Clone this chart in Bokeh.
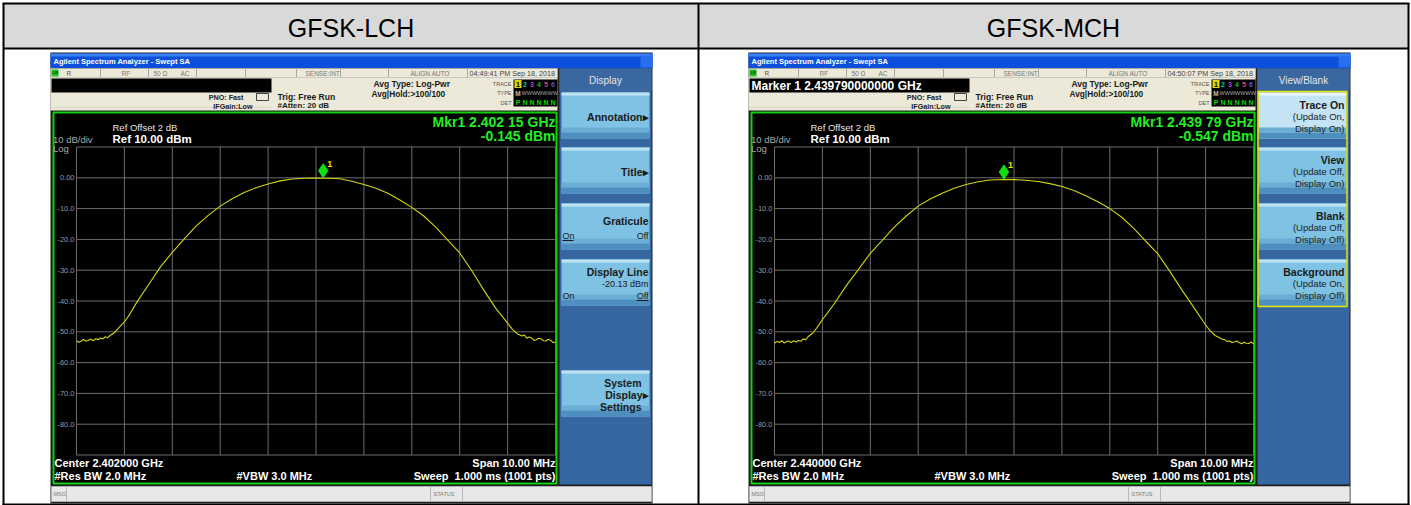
from bokeh.plotting import figure
from bokeh.models import Range1d
from bokeh.embed import file_html
from bokeh.resources import INLINE
from bokeh.core.properties import value

# ---------------- data ----------------
panel_titles = ["GFSK-LCH", "GFSK-MCH"]
window_times = ["04:49:41 PM Sep 18, 2018", "04:50:07 PM Sep 18, 2018"]
marker_readouts = ["", "Marker 1 2.439790000000 GHz"]
center_labels = ["Center 2.402000 GHz", "Center 2.440000 GHz"]
marker_freq_labels = ["Mkr1 2.402 15 GHz", "Mkr1 2.439 79 GHz"]
marker_level_labels = ["-0.145 dBm", "-0.547 dBm"]
marker_offset_mhz = [0.15, -0.21]
marker_level_dbm = [-0.145, -0.547]

span_mhz = 10.0
ref_level_dbm = 10.0
bottom_level_dbm = -90.0
freq_grid_mhz = [-5, -4, -3, -2, -1, 0, 1, 2, 3, 4, 5]
level_grid_dbm = [10, 0, -10, -20, -30, -40, -50, -60, -70, -80, -90]
y_tick_dbm = [0, -10, -20, -30, -40, -50, -60, -70, -80]
y_tick_labels = ["0.00", "-10.0", "-20.0", "-30.0", "-40.0", "-50.0", "-60.0", "-70.0", "-80.0"]

lch_freq_mhz = [-5.0, -4.95, -4.9, -4.85, -4.8, -4.75, -4.7, -4.65, -4.6, -4.55, -4.5, -4.45,
                -4.4, -4.35, -4.3, -4.2, -4.1, -4.0, -3.9,
                -3.75, -3.5, -3.25, -3.0, -2.75, -2.5, -2.25, -2.0, -1.75, -1.5, -1.25, -1.0,
                -0.75, -0.5, -0.25, 0.0, 0.15, 0.25, 0.5, 0.75, 1.0, 1.25, 1.5, 1.75, 2.0,
                2.25, 2.5, 2.75, 3.0, 3.25, 3.5, 3.75,
                4.0, 4.1, 4.2, 4.3, 4.35, 4.4, 4.45, 4.5, 4.55, 4.6, 4.65, 4.7, 4.75, 4.8,
                4.85, 4.9, 4.95, 5.0]
lch_level_dbm = [-52.9, -53.4, -53.0, -52.5, -53.1, -52.7, -52.4, -52.9, -52.2, -52.6, -52.0, -52.3,
                 -51.6, -51.9, -51.2, -50.2, -48.4, -46.8, -44.6,
                 -40.6, -34.8, -29.0, -24.2, -19.8, -15.6, -12.2, -9.2, -6.8, -4.8, -3.2, -2.0,
                 -1.0, -0.4, -0.15, -0.1, -0.145, -0.15, -0.3, -1.1, -2.2, -3.4, -5.0, -7.2, -9.6,
                 -12.4, -16.0, -20.2, -24.4, -30.1, -36.4, -42.3,
                 -47.2, -49.2, -50.6, -51.4, -51.0, -52.1, -51.7, -52.0, -52.8, -52.6, -52.1, -52.3,
                 -52.9, -53.0, -52.4, -52.8, -53.5, -53.4]

mch_freq_mhz = [-5.0, -4.95, -4.9, -4.85, -4.8, -4.75, -4.7, -4.65, -4.6, -4.55, -4.5, -4.45,
                -4.4, -4.35, -4.3, -4.2, -4.1, -4.0, -3.9,
                -3.75, -3.5, -3.25, -3.0, -2.75, -2.5, -2.25, -2.0, -1.75, -1.5, -1.25, -1.0,
                -0.75, -0.5, -0.21, 0.0, 0.25, 0.5, 0.75, 1.0, 1.25, 1.5, 1.75, 2.0,
                2.25, 2.5, 2.75, 3.0, 3.25, 3.5, 3.75,
                4.0, 4.1, 4.2, 4.3, 4.35, 4.4, 4.45, 4.5, 4.55, 4.6, 4.65, 4.7, 4.75, 4.8,
                4.85, 4.9, 4.95, 5.0]
mch_level_dbm = [-53.7, -53.1, -53.5, -52.9, -53.6, -53.2, -53.0, -53.5, -52.9, -53.3, -52.8, -53.1,
                 -52.3, -52.6, -51.6, -50.4, -48.4, -46.0, -44.0,
                 -40.8, -35.0, -29.8, -24.5, -20.3, -16.0, -12.4, -9.2, -6.9, -5.0, -3.4, -2.2,
                 -1.3, -0.7, -0.547, -0.6, -0.8, -1.2, -1.9, -2.8, -4.1, -5.8, -7.8, -10.0,
                 -12.8, -16.4, -20.6, -24.6, -30.3, -36.3, -42.0,
                 -47.8, -49.8, -51.2, -52.0, -52.4, -52.6, -53.1, -53.0, -53.5, -53.3, -53.0, -53.5,
                 -53.9, -53.4, -53.7, -53.8, -53.3, -54.0]

traces = [(lch_freq_mhz, lch_level_dbm), (mch_freq_mhz, mch_level_dbm)]
menu_titles = ["Display", "View/Blank"]

# ---------------- figure (pixel coordinates of the page) ----------------
W, H = 1411, 505
p = figure(width=W, height=H, x_range=Range1d(0, W), y_range=Range1d(H, 0),
           output_backend="svg", toolbar_location=None,
           x_axis_location=None, y_axis_location=None, min_border=0)
p.grid.visible = False
p.outline_line_color = None
p.background_fill_color = "white"
p.border_fill_color = "white"

FONT = value("Liberation Sans")


def box(l, r, t, b, fill, line=None, lw=1):
    p.quad(left=[l], right=[r], top=[t], bottom=[b], fill_color=fill,
           line_color=line, line_width=lw)


def txt(x, y, s, size, color="#000000", align="left", bold=False, font=FONT):
    p.text(x=[x], y=[y], text=[s], text_font=font, text_font_size=f"{size}px",
           text_color=color, text_align=align, text_baseline="middle",
           text_font_style="bold" if bold else "normal")


def seg(x0, y0, x1, y1, color, lw=1):
    p.segment(x0=[x0], y0=[y0], x1=[x1], y1=[y1], line_color=color, line_width=lw)


# ---------------- table ----------------
box(3, 1408, 3, 48, "#d9d9d9")
for i, title in enumerate(panel_titles):
    cx = [350.5, 1053][i]
    txt(cx, 27, title, 25, "#000000", align="center")
seg(3, 48, 1408, 48, "#000000", 2)
seg(698, 3, 698, 505, "#000000", 2)
seg(2, 3, 1409, 3, "#000000", 2)
seg(3, 3, 3, 505, "#000000", 2)
seg(1408, 3, 1408, 505, "#000000", 2)
seg(2, 504, 1409, 504, "#000000", 2)


def button(x0, x1, y0, y1, selected=False):
    body = "#c4e3f4" if selected else "#7fc2e3"
    top = "#eaf6fc" if selected else "#bfe2f3"
    box(x0, x1, y0, y1, body)
    box(x0, x1, y0, y0 + 3, top)
    box(x0, x1, y1 - 11, y1 - 6, "#6aaed6")
    box(x0, x1, y1 - 6, y1, "#4f8fc0")


def screen(k):
    dx = 698 * k
    # frame
    box(50 + dx, 652 + dx, 52, 503, "#1e1e1e")
    # window title bar
    box(50 + dx, 652 + dx, 53, 68, "#0c4fdc")
    box(50 + dx, 652 + dx, 53, 56, "#3c80f2")
    box(640 + dx, 652 + dx, 55, 67, "#2a6ef0")
    txt(53 + dx, 61, "Agilent Spectrum Analyzer - Swept SA", 7.5, "#ffffff", bold=True)
    # status row
    box(50 + dx, 557 + dx, 68, 77, "#ece9d8", "#a8a8a8")
    box(51 + dx, 58 + dx, 69, 76, "#22c022")
    txt(52 + dx, 72.7, "LXI", 3.5, "#003300", bold=True)
    for sx in [100, 148, 196, 245, 296, 340, 388, 467]:
        seg(sx + dx, 68, sx + dx, 77, "#a8a8a8")
    txt(66 + dx, 72.7, "R", 6.5, "#555555")
    txt(121 + dx, 72.7, "RF", 6.5, "#777777")
    txt(153 + dx, 72.7, "50 \u03a9", 6.5, "#777777")
    txt(180 + dx, 72.7, "AC", 6.5, "#777777")
    txt(305 + dx, 72.7, "SENSE:INT", 6.5, "#777777")
    txt(410 + dx, 72.7, "ALIGN AUTO", 6.5, "#777777")
    txt(469 + dx, 72.7, window_times[k], 7.2, "#444444")
    # info area
    box(50 + dx, 557 + dx, 77, 110, "#ece9d8")
    box(51 + dx, 271 + dx, 78, 92, "#000000")
    if marker_readouts[k]:
        txt(53 + dx, 85.5, marker_readouts[k], 12, "#ffffff", bold=True)
    seg(51 + dx, 107, 271 + dx, 107, "#dad6c4")
    txt(243 + dx, 97, "PNO: Fast", 7.2, "#222222", align="right", bold=True)
    txt(252 + dx, 105.5, "IFGain:Low", 7.2, "#222222", align="right", bold=True)
    p.quad(left=[256 + dx], right=[268 + dx], top=[93], bottom=[100], fill_color=None,
           line_color="#444444", line_width=1)
    txt(277 + dx, 96, "Trig: Free Run", 8.5, "#1a1a1a", bold=True)
    txt(277 + dx, 105, "#Atten: 20 dB", 8, "#1a1a1a", bold=True)
    txt(373 + dx, 83.5, "Avg Type: Log-Pwr", 8.5, "#1a1a1a", bold=True)
    txt(371 + dx, 93, "Avg|Hold:>100/100", 8.3, "#1a1a1a", bold=True)
    txt(511 + dx, 83, "TRACE", 5.5, "#555555", align="right")
    txt(511 + dx, 92.5, "TYPE", 5.5, "#555555", align="right")
    txt(511 + dx, 102, "DET", 5.5, "#555555", align="right")
    box(513 + dx, 557 + dx, 79, 106, "#000000")
    box(514 + dx, 521 + dx, 79.5, 87.5, "#d8d800")
    cols = ["#000000", "#00c8c8", "#c040c0", "#00c000", "#e0407a", "#5050ff"]
    for j in range(6):
        txt(517.5 + dx + 7 * j, 83.5, str(j + 1), 7, cols[j], align="center", bold=True)
    txt(517.5 + dx, 93, "M", 6.5, "#bbbbbb", align="center", bold=True)
    txt(521 + dx, 92.5, "WWWWWWW", 5.5, "#aaaaaa")
    txt(517.5 + dx, 102, "P", 7, "#00dd00", align="center", bold=True)
    for j in range(1, 6):
        txt(517.5 + dx + 7 * j, 102, "N", 7, "#00dd00", align="center", bold=True)

    # graph area
    box(52 + dx, 557 + dx, 111, 484, "#000000")
    p.quad(left=[53 + dx], right=[556 + dx], top=[112], bottom=[483], fill_color=None,
           line_color="#10d010", line_width=2)
    txt(112 + dx, 127, "Ref Offset 2 dB", 9.5, "#e6e6e6")
    txt(112 + dx, 138.5, "Ref 10.00 dBm", 11.5, "#ffffff", bold=True)
    txt(52.5 + dx, 139, "10 dB/div", 9.5, "#a8a8a8")
    txt(52.5 + dx, 147.5, "Log", 9.5, "#a8a8a8")
    txt(555 + dx, 121, marker_freq_labels[k], 14, "#22ee22", align="right", bold=True)
    txt(555 + dx, 135, marker_level_labels[k], 14, "#22ee22", align="right", bold=True)
    txt(54 + dx, 462, center_labels[k], 11, "#ffffff", bold=True)
    txt(555 + dx, 462, "Span 10.00 MHz", 11, "#ffffff", align="right", bold=True)
    txt(54 + dx, 475, "#Res BW 2.0 MHz", 11, "#ffffff", bold=True)
    txt(236 + dx, 475, "#VBW 3.0 MHz", 11, "#ffffff", bold=True)
    txt(555 + dx, 475, "Sweep\u00a0\u00a01.000 ms (1001 pts)", 11, "#ffffff", align="right", bold=True)

    # graticule & trace through a sub-coordinate mapping
    gx0, gx1 = 76 + dx, 555 + dx
    gy_top, gy_bot = 146.5, 454.5
    sub = p.subplot(x_source=Range1d(-span_mhz / 2, span_mhz / 2),
                    y_source=Range1d(bottom_level_dbm, ref_level_dbm),
                    x_target=Range1d(gx0, gx1), y_target=Range1d(gy_bot, gy_top))
    n = len(freq_grid_mhz)
    sub.segment(x0=freq_grid_mhz, y0=[bottom_level_dbm] * n, x1=freq_grid_mhz,
                y1=[ref_level_dbm] * n, line_color="#6c6c6c", line_width=1)
    m = len(level_grid_dbm)
    sub.segment(x0=[-span_mhz / 2] * m, y0=level_grid_dbm, x1=[span_mhz / 2] * m,
                y1=level_grid_dbm, line_color="#6c6c6c", line_width=1)
    sub.text(x=[-span_mhz / 2] * len(y_tick_dbm), y=y_tick_dbm, text=y_tick_labels,
             x_offset=-2, text_align="right", text_baseline="middle",
             text_font=FONT, text_font_size="7.5px", text_color="#9a9a9a")
    fx, lv = traces[k]
    sub.line(x=fx, y=lv, line_color="#d4d414", line_width=1.1)
    # marker (drawn just above the trace point)
    subm = p.subplot(x_source=Range1d(-span_mhz / 2, span_mhz / 2),
                     y_source=Range1d(bottom_level_dbm, ref_level_dbm),
                     x_target=Range1d(gx0, gx1), y_target=Range1d(gy_bot - 7.5, gy_top - 7.5))
    subm.scatter(x=[marker_offset_mhz[k]], y=[marker_level_dbm[k]], marker="diamond",
                 size=14, fill_color="#10e010", line_color="#10e010")
    subm.text(x=[marker_offset_mhz[k]], y=[marker_level_dbm[k]], text=["1"],
              x_offset=4, y_offset=-7, text_font=FONT, text_font_size="9px",
              text_color="#e8e800", text_baseline="middle", text_font_style="bold")

    # softkey panel
    box(559 + dx, 651 + dx, 68, 484, "#3767a2")
    box(559 + dx, 651 + dx, 68, 91, "#3a67a0")
    txt(605 + dx, 80, menu_titles[k], 10, "#e6e6e6", align="center")
    R = 648 + dx
    if k == 0:
        for t0 in [92, 147, 203, 259, 370]:
            button(561 + dx, 649 + dx, t0, t0 + 46)
        txt(R, 116, "Annotation\u25b8", 10.5, "#1a1a1a", align="right", bold=True)
        txt(R, 171, "Title\u25b8", 10.5, "#1a1a1a", align="right", bold=True)
        txt(R, 220, "Graticule", 10.5, "#1a1a1a", align="right", bold=True)
        txt(562 + dx, 235, "On", 9, "#1a1a1a")
        seg(562 + dx, 240, 573 + dx, 240, "#1a1a1a")
        txt(R, 235, "Off", 9, "#1a1a1a", align="right")
        txt(R, 271, "Display Line", 10.5, "#1a1a1a", align="right", bold=True)
        txt(R, 283, "-20.13 dBm", 9, "#1a1a1a", align="right")
        txt(562 + dx, 295, "On", 9, "#1a1a1a")
        txt(R, 295, "Off", 9, "#1a1a1a", align="right")
        seg(R - 12, 300, R, 300, "#1a1a1a")
        txt(R - 7, 382, "System", 10.5, "#1a1a1a", align="right", bold=True)
        txt(R, 394, "Display\u25b8", 10.5, "#1a1a1a", align="right", bold=True)
        txt(R - 7, 406, "Settings", 10.5, "#1a1a1a", align="right", bold=True)
    else:
        keys = [("Trace On", "(Update On,", "Display On)"),
                ("View", "(Update Off,", "Display On)"),
                ("Blank", "(Update Off,", "Display Off)"),
                ("Background", "(Update On,", "Display Off)")]
        R = 646 + dx
        for j, t0 in enumerate([92, 147, 203, 259]):
            button(560 + dx, 648 + dx, t0, t0 + 46, selected=(j == 0))
            a, b, c = keys[j]
            txt(R, t0 + 12, a, 10.5, "#1a1a1a", align="right", bold=True)
            txt(R, t0 + 24, b, 9.5, "#222222", align="right")
            txt(R, t0 + 36, c, 9.5, "#222222", align="right")
        p.quad(left=[559.5 + dx], right=[648.5 + dx], top=[91], bottom=[306], fill_color=None,
               line_color="#e6e600", line_width=1.5)

    # message bar
    box(51 + dx, 651 + dx, 486, 501, "#e8e8e8", "#b0b0b0")
    txt(53 + dx, 493.5, "MSG", 5.5, "#777777")
    seg(66 + dx, 486, 66 + dx, 501, "#b8b8b8")
    seg(430 + dx, 486, 430 + dx, 501, "#b8b8b8")
    seg(462 + dx, 486, 462 + dx, 501, "#b8b8b8")
    txt(433 + dx, 493.5, "STATUS", 5.5, "#777777")


screen(0)
screen(1)

open("out.html", "w").write(file_html(p, INLINE))
